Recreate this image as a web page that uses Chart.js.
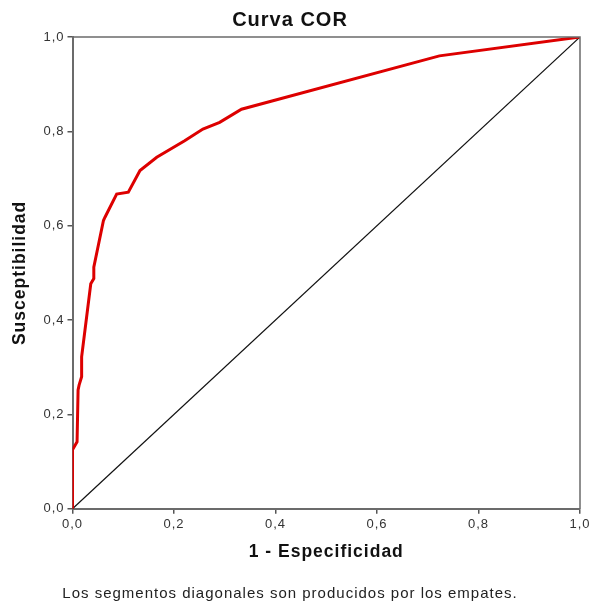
<!DOCTYPE html>
<html>
<head>
<meta charset="utf-8">
<script src="https://cdn.jsdelivr.net/npm/chart.js@4.4.0/dist/chart.umd.min.js"></script>
<style>
  html, body { margin: 0; padding: 0; background: #fff; }
  #wrap { width: 589px; height: 606px; }
</style>
</head>
<body>
<div id="wrap"><canvas id="roc" width="589" height="606"></canvas></div>
<script>
// ROC curve (1 - specificity, sensitivity)
const fprValues = [0, 0, 0.009, 0.011, 0.013, 0.018, 0.018, 0.036, 0.042, 0.042, 0.061, 0.064, 0.087, 0.110, 0.133, 0.166, 0.221, 0.257, 0.290, 0.333, 0.723, 1];
const tprValues = [0, 0.125, 0.142, 0.252, 0.262, 0.280, 0.322, 0.477, 0.488, 0.512, 0.611, 0.618, 0.667, 0.671, 0.717, 0.745, 0.780, 0.805, 0.819, 0.847, 0.960, 1];
const refX = [0, 1];
const refY = [0, 1];
const tickValues = [0, 0.2, 0.4, 0.6, 0.8, 1.0];

const fontFamily = '"Liberation Sans", Arial, sans-serif';
const fmt = v => Number(v).toFixed(1).replace('.', ',');

// the original renders its text slightly spaced out
const spacingPlugin = {
    id: 'spacing',
    beforeUpdate(chart) { chart.ctx.letterSpacing = '1px'; },
    beforeDraw(chart) { chart.ctx.letterSpacing = '1px'; }
};

// frame on top and right of the plot area
const framePlugin = {
    id: 'frame',
    afterDatasetsDraw(chart) {
        const { ctx, chartArea: a } = chart;
        ctx.save();
        ctx.strokeStyle = '#6b6b6b';
        ctx.lineWidth = 1.5;
        ctx.beginPath();
        ctx.moveTo(a.left, a.top);
        ctx.lineTo(a.right, a.top);
        ctx.lineTo(a.right, a.bottom);
        ctx.stroke();
        ctx.restore();
    }
};

new Chart(document.getElementById('roc'), {
    type: 'scatter',
    data: {
        datasets: [
            {
                label: 'Referencia',
                data: refX.map((x, i) => ({ x: x, y: refY[i] })),
                showLine: true,
                borderColor: '#111',
                borderWidth: 1.2,
                pointRadius: 0,
                order: 2
            },
            {
                label: 'Curva',
                data: fprValues.map((x, i) => ({ x: x, y: tprValues[i] })),
                showLine: true,
                borderColor: '#dd0000',
                borderWidth: 3,
                pointRadius: 0,
                order: 1
            }
        ]
    },
    options: {
        responsive: false,
        animation: false,
        layout: { padding: { left: 0, right: 9, top: 0, bottom: 0 } },
        scales: {
            x: {
                type: 'linear',
                min: 0,
                max: 1,
                afterBuildTicks: s => { s.ticks = tickValues.map(v => ({ value: v })); },
                afterFit: s => { s.height = 72.2; s.paddingLeft = 0; s.paddingRight = 0; },
                ticks: {
                    callback: fmt,
                    color: '#333',
                    padding: 3,
                    maxRotation: 0,
                    font: { family: fontFamily, size: 13 }
                },
                grid: { drawOnChartArea: false, tickLength: 5, color: '#555', lineWidth: 1.5 },
                border: { color: '#6b6b6b', width: 2 },
                title: {
                    display: true,
                    text: '1 - Especificidad',
                    color: '#111',
                    padding: { top: 0, bottom: 18 },
                    font: { family: fontFamily, size: 17.5, weight: 'bold' }
                }
            },
            y: {
                type: 'linear',
                min: 0,
                max: 1,
                afterBuildTicks: s => { s.ticks = tickValues.map(v => ({ value: v })); },
                afterFit: s => { s.width = 72.5; s.paddingTop = 0; s.paddingBottom = 0; },
                ticks: {
                    callback: fmt,
                    color: '#333',
                    padding: 3,
                    font: { family: fontFamily, size: 13 }
                },
                grid: { drawOnChartArea: false, tickLength: 5, color: '#555', lineWidth: 1.5 },
                border: { color: '#6b6b6b', width: 2 },
                title: {
                    display: true,
                    text: 'Susceptibilidad',
                    color: '#111',
                    padding: { top: 10, bottom: 0 },
                    font: { family: fontFamily, size: 17.5, weight: 'bold' }
                }
            }
        },
        plugins: {
            legend: { display: false },
            tooltip: { enabled: false },
            title: {
                display: true,
                text: 'Curva COR',
                color: '#111',
                padding: { top: 8, bottom: 5 },
                font: { family: fontFamily, size: 20, weight: 'bold' }
            },
            subtitle: {
                display: true,
                position: 'bottom',
                text: 'Los segmentos diagonales son producidos por los empates.',
                color: '#222',
                padding: { top: 4, bottom: 3 },
                font: { family: fontFamily, size: 15 }
            }
        }
    },
    plugins: [spacingPlugin, framePlugin]
});
</script>
</body>
</html>
